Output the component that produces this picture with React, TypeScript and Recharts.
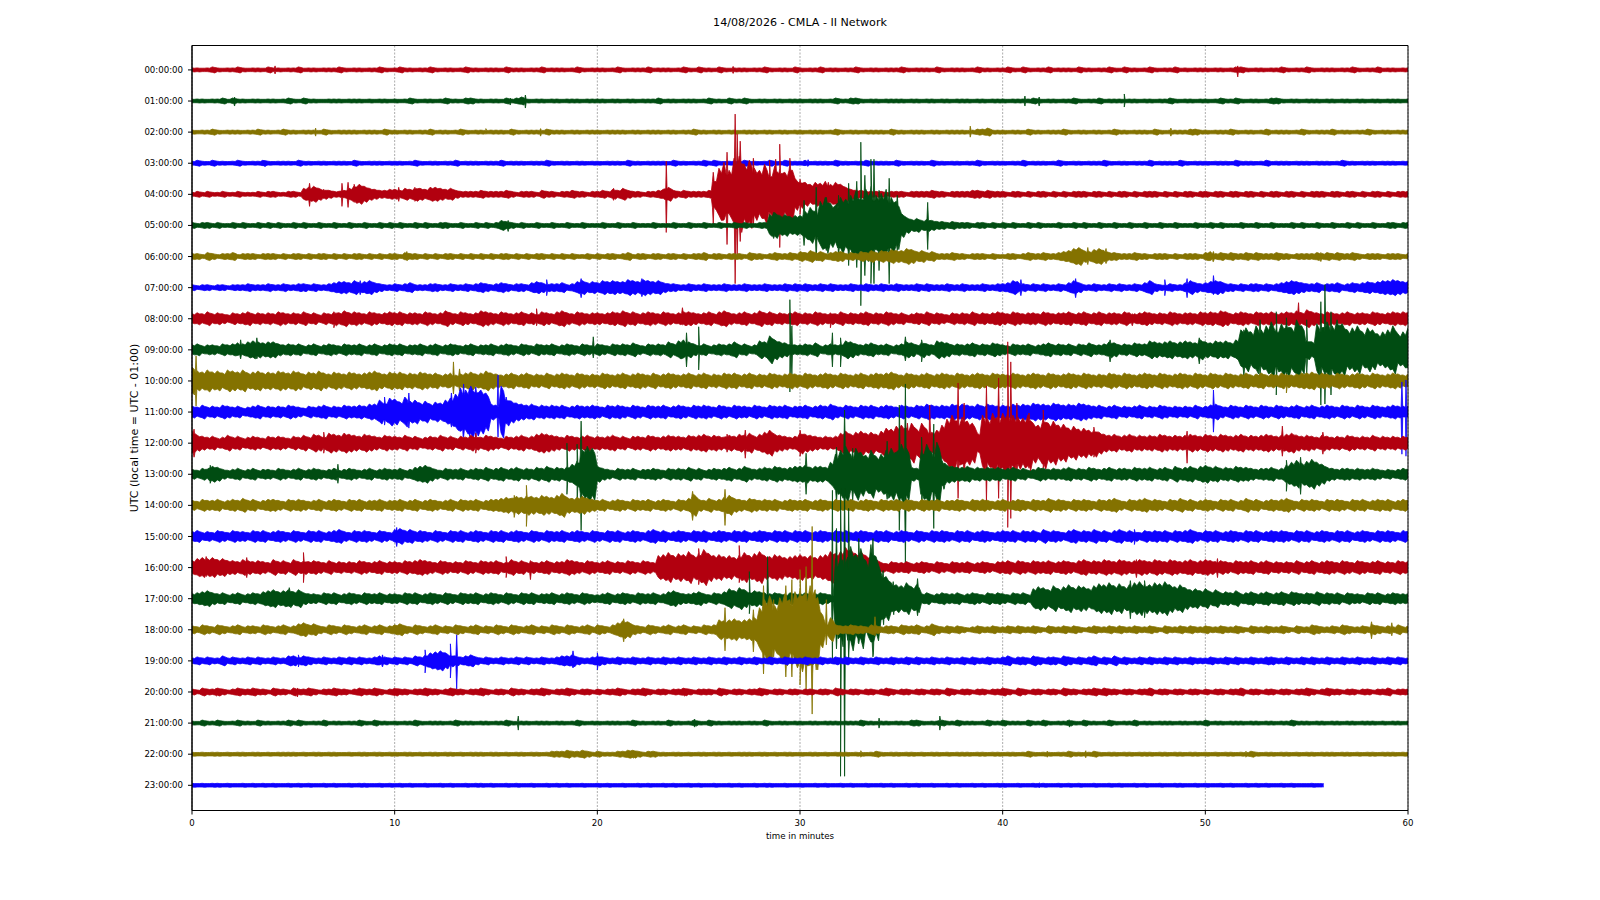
import React from "react";
import {
  ComposedChart,
  Area,
  XAxis,
  YAxis,
  CartesianGrid,
  ReferenceArea,
} from "recharts";

const title = "14/08/2026 - CMLA - II Network";
const hourLabels = [
  "00:00:00", "01:00:00", "02:00:00", "03:00:00", "04:00:00", "05:00:00",
  "06:00:00", "07:00:00", "08:00:00", "09:00:00", "10:00:00", "11:00:00",
  "12:00:00", "13:00:00", "14:00:00", "15:00:00", "16:00:00", "17:00:00",
  "18:00:00", "19:00:00", "20:00:00", "21:00:00", "22:00:00", "23:00:00",
];
const minuteTicks = [0, 10, 20, 30, 40, 50, 60];
const traceColors = ["#B2000F", "#004C12", "#847200", "#0E01FF"];

// half widths of each trace, read every 15 seconds, one line is ten minutes, 31 counts = one row
const amp00 = [
  2,2,1,2,3,2,1,2,2,3,2,1,2,2,1,3,2,2,1,2,2,3,1,2,2,1,2,2,2,3,2,1,2,2,1,2,2,3,2,1,
  2,3,2,2,1,2,2,3,2,1,2,2,1,2,3,2,2,1,2,2,2,1,3,2,2,2,1,2,2,3,1,2,2,2,1,2,3,2,1,2,
  2,2,1,2,3,2,1,2,2,2,3,1,2,2,2,1,2,3,2,1,3,2,2,1,3,2,1,2,2,2,1,2,2,3,2,1,2,2,1,3,
  2,1,2,2,3,1,2,2,1,2,2,3,2,1,2,2,1,2,2,2,3,2,1,2,2,2,1,3,2,1,2,2,2,1,2,3,2,2,1,2,
  2,3,2,1,3,2,1,2,2,3,1,2,2,2,1,3,2,2,1,2,2,3,2,1,3,2,2,1,2,3,2,1,2,2,3,1,2,1,2,2,
  2,1,2,2,1,2,3,3,2,1,2,2,1,2,2,3,2,1,2,2,3,2,1,2,2,2,1,2,2,3,2,1,2,2,3,1,2,2,1,2,
  2,
];
const amp01 = [
  1,2,2,1,2,2,3,1,3,2,2,1,2,2,1,2,2,1,2,3,2,1,3,2,2,1,1,2,2,2,1,2,2,2,1,2,1,2,2,1,
  2,1,2,3,2,1,2,2,1,2,3,2,2,1,3,3,2,2,1,2,2,1,3,2,3,4,2,1,2,2,1,2,2,1,2,2,2,1,2,2,
  2,2,1,2,2,1,2,2,1,2,2,2,3,1,2,2,1,2,2,2,1,2,3,2,2,1,3,2,2,3,2,1,2,2,1,2,2,1,2,2,
  2,1,2,2,2,1,2,3,2,2,3,3,2,1,2,2,1,2,2,2,2,1,2,2,1,2,2,1,2,2,1,2,2,2,1,2,2,1,2,2,
  2,1,2,2,2,2,3,2,1,2,2,1,2,2,3,2,1,2,2,3,1,2,2,2,1,2,2,1,2,2,1,2,2,3,2,1,2,2,1,2,
  2,1,2,3,2,2,3,2,1,2,2,1,2,3,3,2,1,2,2,1,2,2,2,1,2,2,1,2,2,1,2,2,1,2,2,1,2,2,2,1,
  2,
];
const amp02 = [
  2,1,2,2,3,2,1,2,2,2,1,2,2,3,2,2,1,2,3,2,2,1,2,2,2,1,3,2,1,2,2,2,2,1,2,2,2,1,3,2,
  2,1,2,2,1,2,2,3,1,2,2,1,2,3,2,1,2,2,1,2,2,2,1,3,2,1,2,2,2,1,3,2,2,2,1,2,2,1,2,2,
  2,1,2,2,2,2,1,2,2,1,2,2,2,1,2,2,1,2,2,3,2,2,1,2,2,1,2,2,1,2,2,2,1,2,2,1,2,2,1,2,
  2,1,2,2,2,1,2,3,2,1,2,2,1,2,2,2,2,1,3,2,2,1,2,2,2,1,2,2,1,2,2,2,2,1,2,3,3,4,2,2,
  2,1,2,2,1,3,2,2,1,2,2,2,3,2,1,2,2,1,2,2,1,2,3,2,2,1,2,2,2,1,3,2,1,2,2,2,2,3,3,2,
  2,1,2,2,2,3,2,1,2,2,1,2,3,1,2,2,2,1,2,3,2,1,2,2,2,3,1,2,2,1,2,2,3,2,1,2,2,1,2,2,
  2,
];
const amp03 = [
  2,3,2,1,3,2,2,1,2,3,2,1,2,2,3,2,1,2,2,2,1,3,2,2,1,2,2,1,2,2,2,1,3,2,1,2,2,2,1,2,
  2,2,1,2,3,2,1,2,2,1,2,2,3,1,2,2,2,1,2,2,2,3,1,2,2,2,1,2,2,2,3,2,1,2,2,1,2,2,1,2,
  2,1,2,2,2,1,3,2,2,1,2,2,2,2,1,3,2,2,1,2,2,3,2,3,2,1,2,2,2,3,2,2,1,2,3,2,1,3,2,2,
  2,3,1,2,2,2,1,3,2,2,1,2,2,3,1,2,2,2,1,3,2,1,2,2,2,1,3,2,2,1,2,2,1,2,2,3,2,1,2,2,
  2,1,2,2,3,1,2,2,2,1,2,3,2,1,2,2,1,2,2,2,3,2,1,2,2,1,2,2,2,3,1,2,2,2,1,3,2,1,2,2,
  2,1,2,2,2,1,3,2,2,2,1,2,3,1,2,2,2,1,2,2,2,1,2,2,2,1,2,3,2,2,1,2,2,2,1,2,2,2,1,2,
  2,
];
const amp04 = [
  2,3,2,3,2,2,3,2,2,3,2,2,2,3,2,3,3,2,2,3,3,2,6,7,8,6,5,4,3,3,4,6,9,10,8,6,5,4,4,5,
  5,4,6,5,7,6,5,7,7,6,5,6,4,3,3,3,3,4,3,3,3,3,4,3,2,3,3,3,2,4,3,3,2,3,3,4,3,3,2,3,
  3,4,3,5,4,6,4,3,3,2,3,3,4,5,7,4,3,4,3,3,3,3,4,16,26,32,24,36,38,30,34,26,24,30,22,28,26,22,30,16,
  14,12,10,12,11,13,10,12,10,7,5,4,4,3,3,3,3,2,3,3,3,2,3,3,3,3,4,3,3,2,3,3,3,3,4,4,3,4,3,3,
  3,2,3,3,2,3,2,3,3,2,3,2,3,2,3,3,3,2,3,3,2,3,2,3,3,2,3,2,3,3,3,2,3,2,3,2,3,3,2,3,
  3,2,3,3,2,3,3,2,3,3,2,3,2,3,3,2,3,3,2,3,2,3,3,3,2,3,3,2,3,3,2,3,2,3,3,2,3,2,3,3,
  3,
];
const amp05 = [
  3,2,3,3,2,3,2,2,3,2,3,2,2,3,2,3,2,3,2,2,3,2,3,2,2,3,2,2,3,2,2,3,2,2,3,2,2,3,2,3,
  2,3,2,2,3,2,3,2,2,3,3,2,2,3,2,2,3,2,3,2,3,5,4,3,2,3,2,2,3,2,2,3,2,2,3,2,2,3,2,2,
  2,3,2,2,3,2,2,3,2,2,2,3,2,2,2,3,2,2,3,2,2,3,2,2,3,2,2,3,2,3,2,2,3,3,11,13,10,11,9,10,
  10,14,18,14,24,28,22,20,28,26,30,34,32,36,40,30,32,36,28,24,12,8,6,7,5,6,5,4,4,3,4,3,3,3,2,3,3,2,3,2,
  3,2,3,2,2,3,2,3,2,2,2,3,2,2,3,2,3,2,2,3,2,2,3,2,2,3,2,2,3,2,2,3,2,2,3,2,2,2,3,2,
  2,3,2,3,2,2,2,3,2,2,3,2,2,3,2,2,2,3,2,3,2,2,3,2,2,3,2,2,3,2,3,2,2,3,2,2,3,3,2,3,
  3,
];
const amp06 = [
  3,3,2,4,3,2,3,3,4,2,3,3,3,2,3,3,3,2,3,2,3,3,2,3,2,3,3,2,3,2,3,2,3,3,2,3,2,3,2,3,
  3,2,4,3,3,2,3,2,3,2,3,3,2,3,2,3,2,3,2,3,2,3,3,2,3,2,3,2,3,3,2,3,2,3,2,3,2,2,3,2,
  3,2,3,3,2,3,4,2,3,3,2,3,3,2,3,3,2,3,2,3,3,4,2,3,3,2,3,3,3,2,4,3,3,2,3,4,3,3,4,3,
  5,4,6,4,5,3,4,5,5,3,4,3,5,4,6,4,6,5,7,6,6,8,7,5,6,4,5,3,3,3,4,3,3,2,3,3,3,2,3,2,
  2,3,3,2,3,4,3,3,4,3,3,4,5,6,8,9,6,5,7,8,6,4,4,3,3,3,4,3,3,2,3,3,3,2,3,2,3,3,3,2,
  4,5,3,4,3,4,3,3,4,3,4,3,3,3,4,3,3,2,3,3,3,3,4,3,4,3,4,3,3,4,3,2,3,3,3,2,3,3,3,2,
  3,
];
const amp07 = [
  3,2,3,3,2,3,3,2,3,3,3,4,3,3,3,4,3,3,4,3,3,4,4,3,4,3,3,4,5,6,6,5,7,5,6,7,5,4,3,3,
  4,3,4,5,3,3,3,4,4,3,3,4,3,3,4,3,4,5,4,3,4,5,4,3,4,4,3,5,6,5,4,4,4,5,3,4,6,7,5,6,
  5,7,6,7,6,6,8,7,6,8,7,6,7,5,4,4,3,3,4,3,3,4,3,3,3,4,3,3,3,4,3,3,3,4,3,3,3,4,3,4,
  3,4,3,3,4,3,4,3,3,3,4,3,3,4,3,3,4,3,3,4,3,3,3,4,3,4,3,3,3,4,3,3,4,3,3,3,4,3,3,4,
  4,5,7,6,4,3,4,3,4,3,3,4,3,5,7,5,3,3,4,3,3,4,3,4,3,3,4,3,5,7,4,3,3,4,3,3,5,7,5,4,
  5,6,7,6,4,4,3,4,3,4,4,3,4,3,4,5,6,7,6,5,4,4,5,3,4,4,5,3,4,5,4,5,6,5,6,7,7,8,7,6,
  6,
];
const amp08 = [
  5,6,5,7,5,6,5,4,6,5,6,7,5,6,5,6,5,7,6,5,6,5,7,5,6,4,6,5,7,6,8,6,7,6,5,7,6,5,6,7,
  6,7,5,6,6,5,7,6,5,6,8,6,5,7,6,5,6,8,7,6,5,7,6,5,6,7,5,6,5,7,6,5,7,8,6,5,7,6,5,6,
  6,5,6,7,6,8,6,7,5,6,7,6,5,7,6,5,6,7,7,6,5,6,7,5,7,8,6,5,6,7,5,6,8,6,7,5,6,5,6,7,
  5,6,5,7,6,5,6,5,7,5,6,5,6,7,5,6,5,7,6,5,6,4,5,6,5,7,5,6,5,4,6,5,6,5,7,5,6,5,6,7,
  6,5,7,6,5,6,6,5,7,6,5,6,6,7,5,6,7,5,6,7,5,6,6,5,7,6,5,6,7,6,5,6,5,7,6,5,6,6,5,7,
  6,7,6,8,7,5,6,7,6,5,7,6,6,7,5,6,7,6,8,6,9,7,6,5,7,6,5,6,7,5,6,6,5,7,6,5,6,7,6,7,
  6,
];
const amp09 = [
  5,6,4,5,5,4,6,5,6,7,6,8,9,8,7,8,8,6,5,6,5,6,4,5,6,4,5,6,5,4,6,5,5,6,4,5,6,4,5,6,
  5,6,4,5,5,6,4,5,6,4,5,6,5,4,5,6,4,5,5,6,4,5,6,5,4,6,5,4,6,5,5,6,4,5,6,5,4,6,5,4,
  6,5,4,6,5,6,5,7,5,4,6,5,6,5,8,6,9,10,8,6,5,6,4,5,6,5,6,8,5,6,4,5,9,8,14,10,8,7,6,5,
  5,6,5,7,4,5,6,5,6,9,8,6,5,6,7,5,5,6,4,5,6,8,7,5,8,6,5,9,8,7,5,6,5,6,7,5,6,5,7,6,
  5,4,6,5,5,6,4,5,6,7,5,6,5,6,4,6,5,7,5,5,6,8,7,5,6,5,7,6,6,9,8,7,8,9,7,8,9,8,7,10,
  8,7,9,8,9,7,10,20,22,18,24,20,24,28,22,26,28,22,30,24,10,8,26,22,28,24,30,26,20,22,24,18,22,20,16,18,20,24,16,18,22,20,16,22,18,20,
  18,
];
const amp10 = [
  14,10,9,11,9,10,8,11,10,9,11,8,9,10,8,9,8,10,9,8,10,9,7,9,8,10,8,7,9,8,7,9,8,7,8,9,10,8,7,9,
  8,9,7,8,7,9,8,7,8,6,7,8,6,7,8,9,7,8,10,8,7,6,7,8,6,7,8,6,7,6,8,6,7,8,7,6,8,7,6,7,
  6,8,7,6,7,8,6,7,8,7,6,8,6,7,8,7,6,7,8,6,7,8,6,7,6,8,7,8,6,7,8,6,7,6,8,7,6,7,8,7,
  6,8,7,6,7,8,7,6,8,7,6,7,8,6,7,8,7,8,9,7,6,8,7,6,7,8,6,7,8,7,6,8,7,6,7,8,7,6,8,7,
  7,6,8,7,6,7,8,7,6,8,7,6,7,8,7,6,8,7,6,7,6,8,7,6,8,7,6,7,8,7,6,8,7,6,7,8,7,6,8,7,
  6,8,7,6,8,7,6,7,8,6,7,8,6,7,6,8,7,6,7,8,8,9,7,8,7,6,8,7,6,7,8,7,6,8,7,6,7,8,7,6,
  7,
];
const amp11 = [
  6,5,7,5,6,5,7,6,5,6,4,5,6,7,5,6,5,6,5,7,6,5,4,6,5,6,7,5,6,5,7,6,6,7,6,8,8,12,10,14,
  13,10,15,11,12,9,11,8,10,9,12,14,18,24,22,26,24,22,19,8,7,26,14,11,9,8,7,8,6,7,6,7,6,7,5,6,7,6,6,7,
  6,5,7,6,7,6,5,7,6,5,7,6,6,7,5,6,7,6,5,7,6,7,6,5,7,6,5,7,6,6,5,7,6,5,7,6,6,7,5,6,
  6,7,5,6,7,6,8,6,5,7,6,5,7,6,7,5,6,7,6,5,7,6,5,7,6,8,7,6,7,6,8,7,8,7,6,8,6,8,7,6,
  7,6,8,7,8,7,9,8,8,7,9,8,7,8,7,9,8,7,6,7,5,6,7,5,6,5,6,7,5,6,5,7,6,5,6,5,6,5,7,5,
  6,7,8,6,5,7,6,5,7,6,5,7,6,5,7,6,5,6,7,5,6,7,5,6,7,6,5,7,6,5,7,6,5,7,6,5,6,7,6,6,
  6,
];
const amp12 = [
  12,8,7,6,7,5,6,8,6,7,5,6,7,6,5,7,6,7,6,5,7,6,8,6,9,8,7,10,9,8,10,9,8,7,9,8,7,6,8,7,
  7,6,8,6,7,5,6,7,6,8,6,7,5,7,6,8,7,6,8,7,6,5,7,6,7,8,6,7,9,10,9,8,7,6,8,7,6,7,8,6,
  7,6,7,8,6,7,5,7,7,6,8,7,6,7,8,7,7,6,8,7,8,9,7,8,7,6,8,7,9,8,10,7,9,11,13,9,8,7,6,7,
  11,9,8,7,6,7,6,7,10,12,9,11,12,10,11,9,12,15,14,17,18,15,20,14,20,14,11,13,18,24,28,22,26,22,20,10,28,24,30,26,
  30,34,28,26,25,28,20,18,26,20,22,18,19,15,17,14,15,13,14,11,9,8,9,7,8,9,7,8,7,8,7,9,8,7,8,7,8,9,8,7,
  9,8,7,9,8,7,8,9,7,8,7,8,9,8,7,8,9,10,8,7,8,7,6,8,7,6,7,6,8,7,6,7,6,8,6,7,6,7,6,7,
  6,
];
const amp13 = [
  5,4,6,5,8,7,5,4,5,6,4,5,6,4,5,5,4,6,5,4,5,6,4,5,6,5,4,5,6,4,5,6,5,4,5,6,4,5,6,5,
  5,6,4,5,7,8,9,7,5,4,6,5,5,6,4,5,6,5,7,5,6,7,5,6,7,5,6,5,7,6,8,6,7,6,8,10,14,24,28,26,
  8,6,5,4,6,5,5,6,4,5,5,6,5,4,6,5,6,5,7,5,6,4,5,6,5,6,7,5,6,8,6,5,6,7,6,8,7,6,7,8,
  8,9,7,8,8,7,12,20,24,28,20,26,22,19,24,18,20,24,26,22,30,26,7,6,25,30,22,32,14,9,8,7,7,8,6,7,6,7,6,7,
  5,6,7,5,6,4,5,7,6,5,6,5,6,7,5,6,5,7,6,5,6,7,5,6,6,5,7,6,6,7,5,6,7,5,8,6,7,8,6,8,
  9,7,8,6,7,6,8,7,7,6,5,6,6,7,5,6,10,12,14,11,13,15,12,10,7,6,5,6,6,5,6,5,5,6,5,4,5,4,5,6,
  5,
];
const amp14 = [
  5,4,6,5,5,6,4,5,6,5,7,5,6,4,5,6,6,5,4,6,5,6,5,4,5,6,4,5,6,5,4,6,5,6,4,5,5,6,4,5,
  5,6,4,5,6,4,5,6,5,4,5,6,4,6,5,5,6,4,5,6,6,7,8,7,9,8,10,9,8,10,9,8,10,12,8,7,8,9,7,6,
  5,6,4,5,6,5,4,6,5,5,6,4,5,6,5,4,6,5,7,11,6,5,7,5,6,8,10,7,6,5,7,6,5,6,5,6,4,5,6,5,
  5,6,4,5,6,5,4,6,5,5,6,4,5,6,5,4,6,5,5,6,4,6,5,4,6,5,5,6,4,5,5,6,5,4,6,5,6,5,4,5,
  6,4,5,6,5,4,6,5,5,7,5,6,5,4,6,5,6,5,4,6,5,6,7,5,4,6,5,6,7,5,6,5,4,6,5,7,5,6,4,5,
  6,5,4,6,5,6,4,5,7,5,6,4,5,6,5,6,7,5,4,6,5,6,5,4,6,5,6,5,4,6,5,6,4,5,6,5,6,4,5,6,
  5,
];
const amp15 = [
  5,6,4,5,4,6,5,4,6,5,5,4,6,5,6,4,5,6,5,4,6,5,4,6,5,6,4,5,6,7,5,4,6,5,6,5,4,6,5,4,
  7,8,6,7,5,6,5,4,6,5,4,6,5,6,4,5,6,5,4,6,5,6,4,5,6,5,4,6,5,4,6,5,5,6,4,5,6,5,4,6,
  5,4,6,5,6,4,5,6,5,4,6,7,5,6,4,5,6,5,4,6,5,6,4,5,6,5,4,6,5,6,4,5,6,5,4,6,5,6,4,6,
  5,6,4,5,6,5,4,6,5,6,4,5,6,5,4,6,5,6,4,5,6,5,4,6,5,4,6,5,6,5,4,6,5,6,4,5,6,5,4,5,
  6,5,6,4,6,5,6,4,7,5,6,5,4,6,7,5,6,5,7,5,6,4,6,7,5,6,5,4,6,5,6,5,6,4,6,5,6,7,5,4,
  6,5,6,4,5,6,5,4,6,5,6,4,5,6,5,6,5,4,6,5,6,4,5,6,5,4,6,5,6,4,5,6,5,4,6,5,6,5,4,6,
  5,
];
const amp16 = [
  7,9,10,9,10,8,9,7,7,6,8,7,6,7,6,5,8,6,7,5,8,6,7,6,7,6,5,7,5,6,5,6,5,7,6,5,6,7,5,6,
  6,5,7,6,7,8,7,6,5,7,6,5,6,5,7,6,5,7,6,6,7,5,6,8,6,7,5,6,5,6,7,5,6,6,8,7,6,5,7,6,
  5,6,7,5,6,5,7,6,5,7,6,5,12,13,15,12,14,13,16,12,15,18,14,12,13,11,12,10,13,15,12,14,16,12,11,13,12,10,11,12,
  13,11,12,10,12,13,16,14,16,20,18,14,16,12,10,8,5,4,6,5,5,6,4,5,6,5,4,6,5,4,6,5,5,6,4,5,6,5,4,6,
  6,7,5,7,6,5,7,6,6,7,5,6,7,6,5,7,8,6,7,6,8,7,6,8,7,6,7,8,7,6,8,7,6,8,7,6,7,8,6,7,
  8,7,6,7,6,5,7,6,6,7,5,6,7,5,6,5,6,5,7,5,6,7,5,6,7,6,5,7,6,5,7,6,5,6,7,5,6,5,7,6,
  6,
];
const amp17 = [
  5,6,7,8,6,5,6,4,5,6,4,5,6,5,7,8,9,7,8,9,7,9,6,5,5,4,6,5,6,4,5,6,5,4,6,5,5,6,4,5,
  5,4,6,5,6,4,5,6,5,4,6,5,4,6,5,5,6,4,5,6,5,4,6,5,4,6,5,6,4,5,5,6,4,5,6,5,4,6,5,4,
  4,5,6,4,5,6,5,4,6,5,5,6,4,5,7,8,6,5,5,6,7,5,4,6,5,7,10,8,11,9,7,8,7,6,5,6,5,4,6,5,
  5,6,4,5,6,5,4,40,48,36,52,44,50,38,54,42,26,22,16,14,13,16,12,14,5,6,4,5,6,5,5,6,4,5,6,5,4,6,5,6,
  5,4,6,5,6,4,10,12,11,9,13,10,12,14,11,13,12,10,13,15,14,16,13,15,12,14,16,17,15,14,16,15,17,14,12,14,11,9,10,8,
  10,7,9,6,7,6,8,5,6,7,5,6,7,5,6,7,5,7,6,5,6,5,7,5,6,5,6,4,6,5,5,4,6,5,6,4,5,6,5,5,
  5,
];
const amp18 = [
  4,3,5,4,3,5,4,3,4,5,3,4,4,3,5,4,3,4,5,3,4,6,7,5,6,4,3,5,4,3,5,4,3,4,5,3,4,5,3,4,
  5,6,4,3,5,4,3,4,5,3,4,3,5,4,3,4,5,3,4,3,5,4,3,5,4,3,4,5,3,4,3,5,4,3,5,4,3,4,5,3,
  5,4,3,5,7,9,8,5,4,3,5,4,3,4,5,3,4,5,3,4,3,5,4,5,10,9,10,11,9,10,11,12,22,30,34,24,32,36,30,38,
  42,36,44,40,18,6,12,5,4,4,5,4,4,3,5,4,3,4,4,3,5,4,4,5,3,4,6,4,3,4,3,4,3,2,3,4,3,3,4,3,
  3,4,3,4,3,3,4,3,2,4,3,3,4,3,4,3,2,3,4,3,3,4,3,4,3,3,4,3,3,4,3,2,4,3,3,4,3,4,3,3,
  4,3,3,4,3,3,4,3,2,4,3,3,4,3,3,4,3,2,4,3,3,5,4,3,3,4,3,5,4,3,3,4,3,5,4,3,4,3,5,3,
  4,
];
const amp19 = [
  3,4,3,4,3,3,5,3,4,3,3,4,3,4,3,3,4,3,3,5,5,4,5,4,3,3,4,3,3,4,3,4,3,4,3,3,4,5,4,3,
  4,3,4,3,5,4,6,8,9,10,8,6,5,4,5,6,4,3,4,3,3,4,3,3,4,3,4,3,3,4,3,3,4,5,5,6,4,3,3,4,
  5,4,3,3,4,3,3,4,3,3,4,3,3,4,3,3,4,3,3,4,3,3,4,3,3,4,3,3,4,3,3,4,3,3,4,3,3,4,3,3,
  3,4,3,3,4,3,3,4,3,4,3,3,4,3,3,4,3,3,4,3,3,4,3,4,3,3,4,3,3,4,3,3,4,3,4,3,3,4,3,3,
  4,5,3,4,4,3,5,4,3,4,4,3,5,4,3,4,3,4,5,3,4,3,5,3,4,3,3,4,3,4,3,3,4,3,4,3,3,4,3,3,
  3,4,3,3,4,3,4,3,3,4,3,3,4,4,3,3,4,3,3,4,3,4,3,3,4,3,3,4,3,3,4,3,3,4,3,3,4,3,4,3,
  3,
];
const amp20 = [
  3,2,4,3,3,4,3,2,3,4,3,3,4,3,3,2,4,3,3,2,4,3,3,4,3,2,3,3,4,3,3,2,3,4,3,3,4,3,2,3,
  4,3,3,2,3,3,4,3,3,2,3,4,3,3,2,3,3,4,3,2,3,3,2,4,3,3,2,3,3,4,3,2,3,3,4,3,2,3,3,2,
  3,2,3,3,4,3,2,3,3,4,3,2,3,3,2,3,3,4,3,2,3,3,3,2,4,3,2,3,3,2,3,3,4,3,2,3,3,2,3,3,
  2,3,3,2,3,3,2,4,3,2,3,3,2,3,3,2,3,4,3,2,3,3,2,3,3,2,3,3,2,4,3,2,3,3,2,3,3,2,3,3,
  4,3,2,4,3,2,3,3,2,3,3,2,4,3,3,2,3,3,4,3,4,3,3,2,3,3,2,3,3,4,2,3,3,2,3,3,2,3,3,2,
  3,2,3,3,2,3,3,4,2,3,3,2,3,3,2,3,3,2,3,3,4,3,2,3,4,3,3,2,3,3,2,3,3,2,3,3,4,2,3,3,
  3,
];
const amp21 = [
  2,1,3,2,2,3,2,1,2,3,2,2,1,3,2,2,1,2,2,3,2,3,2,1,2,2,3,1,2,2,1,2,2,3,2,1,3,2,2,1,
  2,1,2,2,3,2,1,2,2,2,1,2,3,2,2,2,1,2,2,1,2,2,3,2,1,2,2,1,2,2,2,1,2,2,1,2,3,2,1,2,
  2,1,2,2,2,1,2,3,2,2,1,2,2,1,3,2,2,1,2,3,2,1,3,2,2,1,2,2,2,1,2,2,1,3,2,1,2,2,1,2,
  2,1,2,2,1,2,2,2,1,2,2,2,3,2,2,1,2,2,1,2,2,1,3,3,2,1,2,2,3,2,2,3,2,2,2,1,2,3,2,2,
  3,2,2,2,1,3,2,2,3,2,1,2,2,3,2,1,3,2,2,1,2,3,2,1,2,2,3,1,2,2,1,2,2,2,1,2,2,1,2,2,
  3,1,2,2,1,2,2,2,1,2,2,1,2,2,1,2,2,3,2,2,2,1,2,2,1,2,2,1,2,2,1,2,2,2,1,2,1,2,2,1,
  2,
];
const amp22 = [
  2,1,2,1,2,2,1,2,1,2,2,1,2,2,1,2,1,2,2,2,2,1,2,1,2,2,1,2,2,1,1,2,1,2,2,1,2,2,1,2,
  2,1,2,2,1,2,1,2,2,1,2,2,1,2,1,2,2,2,1,2,2,1,2,1,2,2,1,2,2,1,2,3,3,3,4,3,3,4,3,2,
  3,2,2,2,3,3,4,4,3,2,3,3,2,2,1,2,2,1,2,1,2,2,1,2,2,1,2,1,2,2,2,1,2,2,1,2,1,2,2,1,
  2,1,2,2,1,2,1,2,2,2,1,2,2,1,2,3,2,1,2,2,1,2,2,1,2,1,2,2,1,2,1,2,2,2,1,2,2,1,2,2,
  1,2,2,1,2,3,2,1,2,2,1,2,2,3,2,2,1,2,3,2,1,2,2,1,2,2,1,2,2,2,1,2,2,1,2,2,1,2,2,1,
  2,1,2,1,2,2,1,2,2,3,2,1,2,2,1,2,2,1,2,1,2,2,1,2,2,2,1,2,2,1,2,1,2,2,1,2,2,2,1,2,
  2,
];
const amp23 = [
  2,1,2,1,2,2,1,2,1,1,2,1,2,1,2,1,2,1,1,2,1,2,1,2,1,1,2,1,2,1,1,2,1,2,2,1,1,2,1,2,
  1,2,1,2,1,1,2,1,1,2,1,2,1,1,2,1,2,2,1,2,1,1,2,1,2,1,1,2,1,1,2,1,2,1,2,1,1,2,1,1,
  2,1,2,1,1,2,1,1,2,1,2,1,1,2,1,2,1,1,2,1,2,1,1,2,1,1,2,1,2,1,1,2,1,2,2,1,1,2,1,1,
  2,1,1,2,1,2,1,1,2,1,2,1,1,2,1,1,2,1,2,1,1,2,1,2,1,1,2,1,1,2,1,2,1,1,2,1,2,1,1,2,
  2,1,1,2,1,1,2,1,2,1,1,2,1,2,1,2,1,1,2,1,1,2,1,2,1,1,2,1,2,1,1,2,1,1,2,2,1,1,2,1,
  2,1,1,2,1,2,1,1,2,1,2,1,2,1,1,2,1,2,1,1,1,2,1,1,
];

// narrow peaks that the 15 second reading misses: minute, up, down
const peaks00 = [[4.1, 4, 4], [26.7, 3.5, 3.5], [51.6, 4, 7]];
const peaks01 = [[2.1, 4, 5], [15.7, 3, 4], [16.45, 6, 7], [41.1, 5, 5], [41.8, 4, 5], [46.0, 7, 6]];
const peaks02 = [[6.1, 4, 4], [14.5, 3.5, 2], [17.2, 3.5, 4], [38.4, 6, 5], [48.3, 4, 4]];
const peaks03 = [[3.6, 3, 3.5], [30.4, 3.5, 3]];
const peaks04 = [
  [5.8, 11, 12], [6.5, 4, 4], [7.4, 11, 12], [7.7, 12, 13], [8.0, 10, 8], [10.2, 7, 7], [11, 6, 7], [20.8, 6, 6],
  [23.4, 33, 38], [25.72, 22, 30], [26.4, 42, 50], [26.8, 80, 89], [26.9, 60, 60], [27.05, 53, 47],
  [27.7, 36, 30], [28.5, 34, 28], [28.8, 35, 30], [29.0, 50, 53], [29.5, 36, 30], [30.0, 15, 20], [31.4, 12, 12],
];
const peaks05 = [
  [15.6, 5, 6], [28.7, 13, 13], [30.2, 25, 20], [30.8, 38, 35], [31.3, 28, 25], [31.9, 30, 30], [32.4, 42, 40],
  [32.8, 44, 42], [33.0, 83, 80], [33.2, 50, 50], [33.5, 66, 58], [33.65, 66, 58], [33.9, 35, 45], [34.4, 47, 58],
  [34.8, 30, 25], [36.3, 23, 24],
];
const peaks06 = [[10.6, 5, 4], [44.2, 9, 8], [45.1, 8, 7], [50.4, 5, 5], [55.7, 4, 5]];
const peaks07 = [[8.3, 7, 7], [17.5, 8, 8], [19.2, 9, 10], [22.2, 9, 9], [40.9, 8, 8], [43.6, 9, 10], [48.0, 8, 8], [49.1, 9, 10], [50.4, 12, 7]];
const peaks08 = [[7, 7, 9], [17, 10, 7], [24.2, 11, 6], [31.5, 6, 9], [46.4, 5, 7], [54.6, 16, 16]];
const peaks09 = [
  [2.4, 10, 9], [3.2, 12, 9], [19.8, 13, 8], [24.4, 17, 17], [25, 23, 20], [29.5, 50, 42], [29.6, 24, 25],
  [31.6, 17, 17], [32, 12, 17], [35.2, 13, 11], [36, 10, 12], [45.3, 10, 12], [49.7, 12, 14], [51.9, 20, 26],
  [52.7, 30, 26], [53.5, 38, 45], [54, 32, 25], [55, 30, 25], [55.7, 48, 55], [55.9, 65, 54], [56.2, 38, 45], [56.6, 25, 23],
];
const peaks10 = [[0.2, 25, 25], [12.9, 19, 13], [13.2, 12, 10], [54, 7, 12]];
const peaks11 = [
  [9.5, 15, 13], [10.7, 19, 16], [12.8, 19, 15], [13.4, 28, 25], [13.7, 24, 24], [14, 25, 25], [15.1, 37, 25],
  [15.5, 15, 12], [50.4, 22, 20], [59.7, 30, 42], [59.9, 32, 44],
];
const peaks12 = [
  [0.1, 14, 14], [6.5, 11, 10], [14, 10, 10], [26.4, 9, 9], [27.3, 13, 15], [30, 13, 13], [35.3, 20, 18],
  [36.4, 38, 20], [37.8, 60, 55], [38.1, 40, 30], [39.2, 57, 58], [39.8, 65, 55], [40.25, 101, 84], [40.4, 81, 75],
  [40.7, 40, 30], [41.3, 30, 25], [42, 33, 25], [44.5, 16, 14], [49.1, 12, 20], [53.8, 17, 13], [55.8, 11, 11],
];
const peaks13 = [
  [0.9, 9, 9], [7.2, 10, 9], [18.5, 31, 20], [19.0, 30, 30], [19.2, 53, 56], [19.4, 25, 25], [30.3, 21, 20],
  [31.8, 27, 28], [32.2, 64, 35], [32.6, 26, 26], [34.3, 33, 25], [34.9, 69, 56], [35.2, 90, 89], [36, 37, 36],
  [36.6, 50, 54], [37.1, 10, 15], [54, 14, 17], [54.7, 17, 20],
];
const peaks14 = [[16.5, 20, 21], [15.9, 10, 12], [24.7, 14, 15], [26.3, 16, 20]];
const peaks15 = [[10.1, 9, 10], [46.5, 7, 8]];
const peaks16 = [[0.7, 11, 9], [2.7, 10, 10], [5.5, 15, 15], [15.5, 11, 10], [16.7, 7, 12], [25, 19, 17], [27, 22, 15], [46.6, 8, 10], [50.6, 9, 10]];
const peaks17 = [
  [4.8, 11, 8], [27.5, 27, 15], [28.4, 42, 15], [31.6, 108, 60], [31.8, 70, 50], [32.0, 110, 177], [32.2, 110, 177],
  [32.4, 90, 60], [32.9, 60, 45], [33.6, 60, 58], [34.1, 28, 20], [34.6, 17, 12], [35.8, 20, 17], [46.3, 18, 20], [47, 18, 19],
];
const peaks18 = [
  [21.3, 11, 12], [26.3, 22, 21], [27.7, 20, 22], [28.2, 44, 44], [28.7, 30, 27], [29.3, 44, 47], [29.6, 50, 47],
  [30, 60, 55], [30.3, 63, 60], [30.6, 103, 84], [30.8, 30, 40], [31.3, 30, 15], [33.7, 13, 6], [58.2, 8, 9], [59.2, 7, 6],
];
const peaks19 = [[5.25, 6, 6], [9.4, 6, 6], [11.5, 11, 12], [12.75, 17, 17], [13.06, 26, 28], [18.8, 10, 7], [20, 8, 9]];
const peaks20 = [[1.2, 4, 4], [5.2, 4, 5], [10, 4, 4], [24.3, 4, 4]];
const peaks21 = [[16.1, 7, 7], [24.8, 4, 4], [33.9, 5, 5], [36.9, 7, 7], [43.3, 3, 4]];
const peaks22 = [[21.8, 4, 4], [33, 3.5, 3], [42.2, 3, 3], [44.1, 3.5, 3.5], [52, 3, 3]];
const peaks23 = [[41.8, 2.5, 2.5], [55.8, 1.5, 1.5]];

const allAmps = [
  amp00, amp01, amp02, amp03, amp04, amp05, amp06, amp07, amp08, amp09, amp10, amp11,
  amp12, amp13, amp14, amp15, amp16, amp17, amp18, amp19, amp20, amp21, amp22, amp23,
];
const allPeaks = [
  peaks00, peaks01, peaks02, peaks03, peaks04, peaks05, peaks06, peaks07, peaks08, peaks09, peaks10, peaks11,
  peaks12, peaks13, peaks14, peaks15, peaks16, peaks17, peaks18, peaks19, peaks20, peaks21, peaks22, peaks23,
];

const STEP = 0.25;
const COUNTS_PER_ROW = 31;

// the solid middle of a trace, where the swings overlap
const coreOf = (a: number) => Math.max(a * 0.8, 1.7);

function buildTrace(hour: number) {
  const amps = allAmps[hour];
  const rows: { t: number; up: number; down: number }[] = [];
  amps.forEach((a, i) => {
    const core = coreOf(a);
    // a swing goes up at its reading and down half a step later
    rows.push({ t: i * STEP, up: Math.max(a, core), down: core });
    if (i < amps.length - 1) rows.push({ t: (i + 0.5) * STEP, up: core, down: Math.max(a, core) });
  });
  allPeaks[hour].forEach(([t, up, down]) => {
    const i = Math.min(Math.round(t / STEP), amps.length - 1);
    const core = coreOf(amps[i]);
    // keep the peak narrow by going back to the trace width right beside it
    rows.push({ t: t - 0.04, up: core, down: core });
    rows.push({ t, up, down });
    rows.push({ t: t + 0.04, up: core, down: core });
  });
  return rows
    .sort((a, b) => a.t - b.t)
    .map((r) => ({
      t: r.t,
      band: [hour - r.up / COUNTS_PER_ROW, hour + r.down / COUNTS_PER_ROW],
    }));
}

const hours = hourLabels.map((_, i) => i);
const font = "'DejaVu Sans', sans-serif";

export default function App() {
  return (
    <div style={{ position: "absolute", left: 0, top: 0, width: 1600, height: 900, background: "#fff", fontFamily: font }}>
      <div style={{ position: "absolute", left: 0, width: 1600, top: 16, textAlign: "center", fontSize: 11.1, color: "#000" }}>
        {title}
      </div>
      <ComposedChart
        width={1600}
        height={900}
        margin={{ top: 45.5, right: 192, left: 102, bottom: 59.5 }}
      >
        <CartesianGrid vertical horizontal={false} stroke="#888" strokeWidth={0.7} strokeDasharray="2 1.5" />
        <XAxis
          dataKey="t"
          type="number"
          domain={[0, 60]}
          ticks={minuteTicks}
          allowDataOverflow
          height={30}
          tick={{ fontSize: 8.6, fill: "#000", fontFamily: font }}
          tickSize={4}
          tickMargin={5}
          tickLine={{ stroke: "#000" }}
          axisLine={{ stroke: "#000" }}
          label={{ value: "time in minutes", position: "insideBottom", offset: 2, fontSize: 8.7, fill: "#000", fontFamily: font }}
        />
        <YAxis
          type="number"
          reversed
          domain={[-0.785, 23.81]}
          ticks={hours}
          interval={0}
          allowDataOverflow
          width={90}
          tickFormatter={(h: number) => hourLabels[h]}
          tick={{ fontSize: 8.6, fill: "#000", fontFamily: font }}
          tickSize={4}
          tickMargin={5}
          tickLine={{ stroke: "#000" }}
          axisLine={{ stroke: "#000" }}
          label={{ value: "UTC (local time = UTC - 01:00)", angle: -90, position: "insideLeft", offset: 32, fontSize: 11, fill: "#000", fontFamily: font, style: { textAnchor: "middle" } }}
        />
        {hours.map((h) => (
          <Area
            key={h}
            data={buildTrace(h)}
            dataKey="band"
            type="linear"
            stroke={traceColors[h % 4]}
            strokeWidth={0.8}
            fill={traceColors[h % 4]}
            fillOpacity={1}
            dot={false}
            activeDot={false}
            legendType="none"
            isAnimationActive={false}
          />
        ))}
        <ReferenceArea x1={0} x2={60} y1={-0.785} y2={23.81} stroke="#000" strokeWidth={1} fill="none" ifOverflow="visible" />
      </ComposedChart>
    </div>
  );
}
